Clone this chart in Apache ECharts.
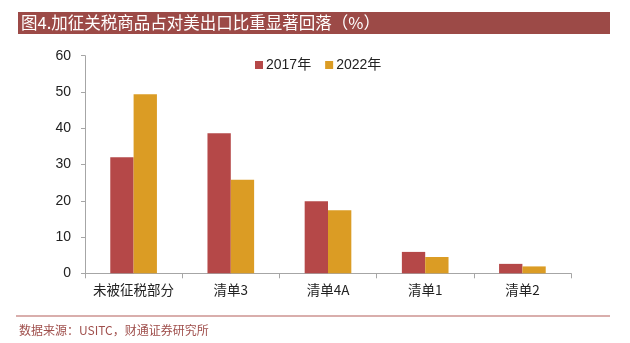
<!DOCTYPE html>
<html><head><meta charset="utf-8">
<script src="https://cdn.jsdelivr.net/npm/echarts@6/dist/echarts.min.js"></script>
<style>html,body{margin:0;padding:0;background:#fff}#c{width:630px;height:343px}</style>
</head><body><div id="c"></div>
<script>
const categories = ['未被征税部分', '清单3', '清单4A', '清单1', '清单2'];
const series2017 = [32.0, 38.6, 19.9, 5.9, 2.6];
const series2022 = [49.4, 25.8, 17.4, 4.5, 1.9];
const seriesNames = ['2017年', '2022年'];
const yTicks = [0, 10, 20, 30, 40, 50, 60];

const chart = echarts.init(document.getElementById('c'), null, {renderer: 'canvas'});
chart.setOption({
  animation: false,
  graphic: [
    {type: 'rect', shape: {x: 18, y: 12, width: 592, height: 22}, style: {fill: '#9C4A47'}},
    {type: 'text', left: 21, top: 14, style: {text: '图4.加征关税商品占对美出口比重显著回落（%）', fill: '#fff', font: '16.5px "Noto Sans CJK SC"'}},
    {type: 'rect', shape: {x: 16, y: 315, width: 594, height: 2}, style: {fill: '#D9AEAC'}},
    {type: 'text', left: 19, top: 324, style: {text: '数据来源：USITC，财通证券研究所', fill: '#A0504D', font: '12px "Noto Sans CJK SC"'}}
  ],
  legend: {
    left: 250, top: 53, itemWidth: 8, itemHeight: 8, itemGap: 14,
    icon: 'rect',
    textStyle: {fontSize: 14, color: '#222', fontFamily: 'Liberation Sans, "Noto Sans CJK SC"', padding: [0,0,0,-2]},
    data: seriesNames
  },
  grid: {left: 85, right: 59, top: 55.7, bottom: 69.7, containLabel: false},
  xAxis: {
    type: 'category', data: categories,
    axisLine: {lineStyle: {color: '#A6A6A6'}},
    axisTick: {show: true, length: 5, lineStyle: {color: '#A6A6A6'}},
    axisLabel: {fontSize: 13.5, color: '#222', margin: 10, interval: 0, fontFamily: '"Noto Sans CJK SC"'}
  },
  yAxis: {
    type: 'value', min: 0, max: 60, interval: 10,
    splitLine: {show: false},
    axisLine: {show: true, lineStyle: {color: '#A6A6A6'}},
    axisTick: {show: true, length: 4, lineStyle: {color: '#A6A6A6'}},
    axisLabel: {fontSize: 14, color: '#222', margin: 14, fontFamily: 'Liberation Sans',
      formatter: v => yTicks.includes(v) ? String(v) : ''}
  },
  series: [
    {name: seriesNames[0], type: 'bar', data: series2017, barWidth: '24%', barGap: '0%',
      itemStyle: {color: '#B54848'}},
    {name: seriesNames[1], type: 'bar', data: series2022, barWidth: '24%', barGap: '0%',
      itemStyle: {color: '#DB9C24'}}
  ]
});
</script></body></html>
